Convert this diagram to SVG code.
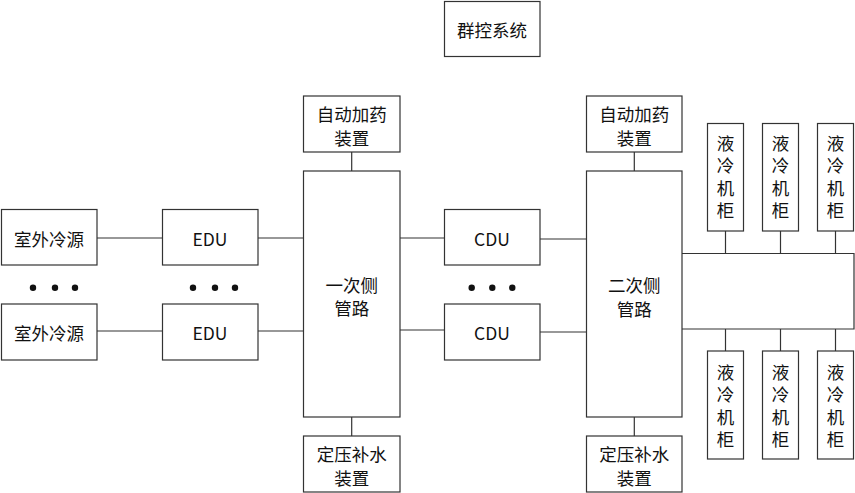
<svg xmlns="http://www.w3.org/2000/svg" width="855" height="493" viewBox="0 0 855 493">
<style>
rect{fill:#fff;stroke:#333;stroke-width:1.2}
line,path{stroke:#333;stroke-width:1.2;fill:none}
text{font-family:"Noto Sans CJK SC","Microsoft YaHei",sans-serif;font-size:17.5px;fill:#111;text-anchor:middle;dominant-baseline:central}
text.v{writing-mode:vertical-rl;letter-spacing:5px;text-orientation:upright}
circle{fill:#111}
</style>
<rect x="0" y="0" width="855" height="493" style="stroke:none"/>
<g id="connectors">
<line x1="97" y1="238" x2="162" y2="238"/>
<line x1="97" y1="331" x2="162" y2="331"/>
<line x1="258" y1="238" x2="303" y2="238"/>
<line x1="258" y1="331" x2="303" y2="331"/>
<line x1="400" y1="238" x2="444" y2="238"/>
<line x1="400" y1="330" x2="444" y2="330"/>
<line x1="540" y1="239" x2="586" y2="239"/>
<line x1="540" y1="332" x2="586" y2="332"/>
<line x1="351.7" y1="152" x2="351.7" y2="171"/>
<line x1="351.7" y1="417" x2="351.7" y2="436"/>
<line x1="634.3" y1="152" x2="634.3" y2="171"/>
<line x1="634.3" y1="417" x2="634.3" y2="436"/>
<path d="M682 253.5H854V329H682"/>
<line x1="725.5" y1="231" x2="725.5" y2="253.5"/>
<line x1="780.5" y1="231" x2="780.5" y2="253.5"/>
<line x1="835.5" y1="231" x2="835.5" y2="253.5"/>
<line x1="725.5" y1="329" x2="725.5" y2="351"/>
<line x1="780.5" y1="329" x2="780.5" y2="351"/>
<line x1="835.5" y1="329" x2="835.5" y2="351"/>
</g>
<g id="dots">
<circle cx="33" cy="287.7" r="3.2"/><circle cx="55" cy="287.7" r="3.2"/><circle cx="75" cy="287.7" r="3.2"/>
<circle cx="193" cy="287.7" r="3.2"/><circle cx="215" cy="287.7" r="3.2"/><circle cx="235" cy="287.7" r="3.2"/>
<circle cx="471.7" cy="287.7" r="3.2"/><circle cx="492.3" cy="287.7" r="3.2"/><circle cx="512.3" cy="287.7" r="3.2"/>
</g>
<g id="group-control"><rect x="444.5" y="1.5" width="95.5" height="55"/><text x="492" y="29.5">群控系统</text></g>
<g id="outdoor1"><rect x="1.5" y="209.5" width="95.5" height="55.5"/><text x="49" y="238">室外冷源</text></g>
<g id="outdoor2"><rect x="1.5" y="304" width="95.5" height="56"/><text x="49" y="332">室外冷源</text></g>
<g id="edu1"><rect x="162.5" y="209.5" width="95.5" height="55.5"/><text x="210" y="238">EDU</text></g>
<g id="edu2"><rect x="162.5" y="304" width="95.5" height="56"/><text x="210" y="332">EDU</text></g>
<g id="primary-pipe"><rect x="303.5" y="171" width="96.5" height="246"/><text x="351.7" y="284">一次侧<tspan x="351.7" dy="23.2">管路</tspan></text></g>
<g id="dosing1"><rect x="303.5" y="96" width="96.5" height="56"/><text x="351.7" y="113.5">自动加药<tspan x="351.7" dy="23.2">装置</tspan></text></g>
<g id="makeup1"><rect x="303.5" y="436" width="96.5" height="56"/><text x="351.7" y="453.5">定压补水<tspan x="351.7" dy="23.2">装置</tspan></text></g>
<g id="cdu1"><rect x="444.5" y="209.5" width="95.5" height="55.5"/><text x="492" y="238">CDU</text></g>
<g id="cdu2"><rect x="444.5" y="304" width="95.5" height="56"/><text x="492" y="332">CDU</text></g>
<g id="secondary-pipe"><rect x="586.5" y="171" width="95.5" height="246"/><text x="634.3" y="284.5">二次侧<tspan x="634.3" dy="23.2">管路</tspan></text></g>
<g id="dosing2"><rect x="586.5" y="96" width="95.5" height="56"/><text x="634.3" y="113.5">自动加药<tspan x="634.3" dy="23.2">装置</tspan></text></g>
<g id="makeup2"><rect x="586.5" y="436" width="95.5" height="56"/><text x="634.3" y="453.5">定压补水<tspan x="634.3" dy="23.2">装置</tspan></text></g>
<g id="cabinet-t1"><rect x="707.5" y="123.5" width="36" height="107.5"/><text class="v" x="725.5" y="179.5">液冷机柜</text></g>
<g id="cabinet-t2"><rect x="762.5" y="123.5" width="36" height="107.5"/><text class="v" x="780.5" y="179.5">液冷机柜</text></g>
<g id="cabinet-t3"><rect x="817.5" y="123.5" width="36" height="107.5"/><text class="v" x="835.5" y="179.5">液冷机柜</text></g>
<g id="cabinet-b1"><rect x="707.5" y="351" width="36" height="108"/><text class="v" x="725.5" y="408.5">液冷机柜</text></g>
<g id="cabinet-b2"><rect x="762.5" y="351" width="36" height="108"/><text class="v" x="780.5" y="408.5">液冷机柜</text></g>
<g id="cabinet-b3"><rect x="817.5" y="351" width="36" height="108"/><text class="v" x="835.5" y="408.5">液冷机柜</text></g>
</svg>
